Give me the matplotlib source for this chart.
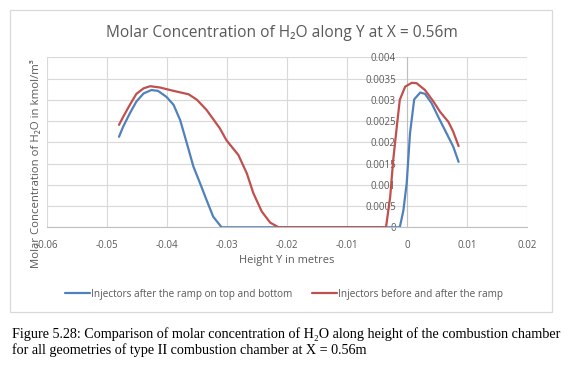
import matplotlib
matplotlib.use("Agg")
import matplotlib.pyplot as plt
from matplotlib.patches import Rectangle

# ---- data ----
blue_x = [-0.0480, -0.0473, -0.0462, -0.0451, -0.0439, -0.0426, -0.0415, -0.0401,
          -0.0389, -0.0378, -0.0367, -0.0356, -0.0345, -0.0334, -0.0323, -0.0309,
          -0.0200, -0.0100, -0.0012, -0.0006, -0.00005, 0.0005, 0.0012, 0.0022,
          0.0030, 0.0041, 0.0052, 0.0066, 0.0077, 0.0086]
blue_y = [0.00213, 0.00237, 0.00268, 0.00296, 0.00315, 0.00323, 0.00321, 0.00307,
          0.00288, 0.00252, 0.00198, 0.00143, 0.00104, 0.00064, 0.00025, 0.0,
          0.0, 0.0, 0.0, 0.00040, 0.00104, 0.00221, 0.00301, 0.00317,
          0.00314, 0.00292, 0.00260, 0.00221, 0.00190, 0.00154]

red_x = [-0.0480, -0.0473, -0.0462, -0.0451, -0.0439, -0.0428, -0.0412, -0.0389,
         -0.0364, -0.0350, -0.0334, -0.0312, -0.0301, -0.0281, -0.0267, -0.0256,
         -0.0242, -0.0228, -0.0214, -0.0100, -0.0035, -0.0028, -0.0023, -0.0017,
         -0.0012, -0.0003, 0.0008, 0.0016, 0.0030, 0.0044, 0.0055, 0.0069,
         0.0077, 0.0086]
red_y = [0.00241, 0.00260, 0.00288, 0.00314, 0.00327, 0.00332, 0.00329, 0.00321,
         0.00313, 0.00300, 0.00276, 0.00233, 0.00205, 0.00170, 0.00127, 0.00080,
         0.00037, 0.00011, 0.0, 0.0, 0.0, 0.00072, 0.00158, 0.00237,
         0.00300, 0.00331, 0.00340, 0.00339, 0.00323, 0.00296, 0.00272, 0.00248,
         0.00225, 0.00191]

series_names = ["Injectors after the ramp on top and bottom",
                "Injectors before and after the ramp"]

xticks = [-0.06, -0.05, -0.04, -0.03, -0.02, -0.01, 0, 0.01, 0.02]
xtick_labels = ["-0.06", "-0.05", "-0.04", "-0.03", "-0.02", "-0.01", "0", "0.01", "0.02"]
yticks = [0, 0.0005, 0.001, 0.0015, 0.002, 0.0025, 0.003, 0.0035, 0.004]
ytick_labels = ["0", "0.0005", "0.001", "0.0015", "0.002", "0.0025", "0.003", "0.0035", "0.004"]

title = "Molar Concentration of H\u2082O along Y at X = 0.56m"
xlabel = "Height Y in metres"
ylabel = "Molar Concentration of H\u2082O in kmol/m\u00b3"
caption1 = "Figure 5.28: Comparison of molar concentration of H\u2082O along height of the combustion chamber"
caption2 = "for all geometries of type II combustion chamber at X = 0.56m"

# ---- styling ----
W, H = 571, 369
FONT = ["Open Sans", "DejaVu Sans"]
plt.rcParams["font.family"] = FONT
TXT = "#595959"
GRID = "#d9d9d9"
AXC = "#bfbfbf"

fig = plt.figure(figsize=(W / 100, H / 100), dpi=100)

def fx(px):
    return px / W

def fy(py):
    return 1 - py / H

# chart border
fig.patches.append(Rectangle((fx(10), fy(312)), fx(552) - fx(10), fy(10) - fy(312),
                             transform=fig.transFigure, fill=False,
                             edgecolor=GRID, linewidth=0.9))

ax = fig.add_axes([fx(47), fy(227.3), fx(527) - fx(47), fy(57.3) - fy(227.3)])
ax.set_xlim(-0.06, 0.02)
ax.set_ylim(0, 0.004)

ax.plot(blue_x, blue_y, color="#4F81BD", lw=1.6, solid_joinstyle="round",
        solid_capstyle="round", label=series_names[0], zorder=3)
ax.plot(red_x, red_y, color="#C0504D", lw=1.6, solid_joinstyle="round",
        solid_capstyle="round", label=series_names[1], zorder=3)

ax.set_xticks(xticks)
ax.set_xticklabels(xtick_labels)
ax.set_yticks(yticks)
ax.set_yticklabels(ytick_labels)
ax.grid(True, color=GRID, linewidth=0.8)
ax.set_axisbelow(True)
ax.tick_params(axis="both", length=0, labelsize=7, labelcolor=TXT)
ax.tick_params(axis="x", pad=9)
ax.tick_params(axis="y", pad=8)

for s in ["top", "right"]:
    ax.spines[s].set_visible(False)
ax.spines["left"].set_position(("data", 0))
ax.spines["left"].set_color(AXC)
ax.spines["bottom"].set_color(AXC)
ax.spines["left"].set_linewidth(0.8)
ax.spines["bottom"].set_linewidth(0.8)
for lab in ax.get_yticklabels():
    lab.set_zorder(2)

fig.text(fx(282), fy(33), title, ha="center", va="center", fontsize=11.2, color=TXT)
fig.text(fx(287), fy(261), xlabel, ha="center", va="center", fontsize=7.9, color=TXT)
fig.text(fx(37), fy(164), ylabel, ha="center", va="center", rotation=90,
         fontsize=8.2, color=TXT)

leg = fig.legend(loc="center", bbox_to_anchor=(fx(284), fy(294)), ncol=2,
                 frameon=False, fontsize=7.2, handlelength=2.5, handletextpad=0.1,
                 columnspacing=2.0, borderaxespad=0)
for t in leg.get_texts():
    t.set_color(TXT)

fig.text(fx(12), fy(334), caption1, ha="left", va="center", fontsize=10.2,
         family=["Liberation Serif", "DejaVu Serif"], color="black")
fig.text(fx(12), fy(350), caption2, ha="left", va="center", fontsize=10.2,
         family=["Liberation Serif", "DejaVu Serif"], color="black")

fig.savefig("out.png", dpi=100, facecolor="white")
